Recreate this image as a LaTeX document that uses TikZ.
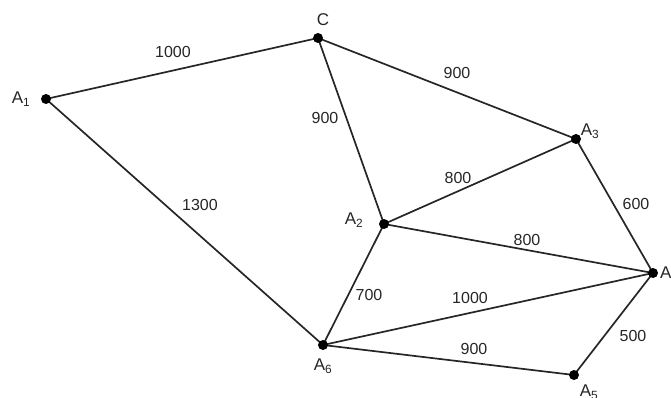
\documentclass[tikz,border=0pt]{standalone}
\usepackage{fontspec}
\setmainfont{Liberation Sans}
\begin{document}
\begin{tikzpicture}[x=1pt,y=-1pt,
  edge/.style={line width=1.7pt,black!85},
  dot/.style={circle,fill=black,inner sep=0pt,minimum size=10pt},
  wt/.style={inner sep=0pt,font=\fontsize{16}{16}\selectfont,text=black!85},
  vl/.style={inner sep=0pt,font=\fontsize{17}{17}\selectfont,text=black!85}]
\useasboundingbox (0,0) rectangle (671,398);
\clip (0,0) rectangle (671,398);
\coordinate (A1) at (46,99);
\coordinate (C) at (318,38);
\coordinate (A3) at (576,139);
\coordinate (A2) at (384,224);
\coordinate (A4) at (653,273);
\coordinate (A6) at (323,345);
\coordinate (A5) at (574,375);
\draw[edge] (A1) -- (C);
\draw[edge] (C) -- (A3);
\draw[edge] (C) -- (A2);
\draw[edge] (A1) -- (A6);
\draw[edge] (A2) -- (A3);
\draw[edge] (A2) -- (A4);
\draw[edge] (A3) -- (A4);
\draw[edge] (A2) -- (A6);
\draw[edge] (A6) -- (A4);
\draw[edge] (A6) -- (A5);
\draw[edge] (A5) -- (A4);
\foreach \n in {A1,C,A3,A2,A4,A6,A5}{\node[dot] (d\n) at (\n) {};}
\node[vl] (lA1) at (21,99) {A\textsubscript{1}};
\node[vl] (lC) at (323,20) {C};
\node[vl] (lA3) at (590,131) {A\textsubscript{3}};
\node[vl] (lA2) at (354,220) {A\textsubscript{2}};
\node[vl,anchor=west] (lA4) at (660,274) {A\textsubscript{4}};
\node[vl] (lA6) at (323,366) {A\textsubscript{6}};
\node[vl] (lA5) at (589,392) {A\textsubscript{5}};
\node[wt] (w1) at (173,52) {1000};
\node[wt] (w2) at (457,73) {900};
\node[wt] (w3) at (325,118) {900};
\node[wt] (w4) at (200,205) {1300};
\node[wt] (w5) at (458,178) {800};
\node[wt] (w6) at (527,240) {800};
\node[wt] (w7) at (636,204) {600};
\node[wt] (w8) at (369,295) {700};
\node[wt] (w9) at (470,298) {1000};
\node[wt] (w10) at (474,349) {900};
\node[wt] (w11) at (633,336) {500};
\end{tikzpicture}
\end{document}
